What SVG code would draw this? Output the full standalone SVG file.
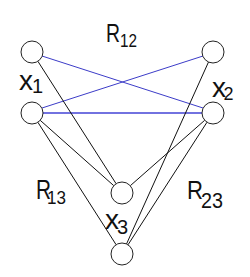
<svg xmlns="http://www.w3.org/2000/svg" width="250" height="277" viewBox="0 0 250 277">
<style>
.node{fill:#fff;stroke:#222;stroke-width:1}
.edge{stroke:#111;stroke-width:1;fill:none}
.blue{stroke:#3c3cc8;stroke-width:1;fill:none}
.blue2{stroke:#7272e0;stroke-width:2;fill:none}
text{font-family:"Liberation Sans",Arial,sans-serif;fill:#111}
</style>
<rect width="250" height="277" fill="#fff"/>
<g id="connectors">
<line class="blue" x1="42" y1="56" x2="203" y2="108"/>
<line class="blue" x1="203" y1="56" x2="42" y2="108"/>
<line class="blue2" x1="43" y1="113" x2="202" y2="113"/>
<line class="edge" x1="37.9" y1="61.3" x2="116.1" y2="183.7"/>
<line class="edge" x1="40.2" y1="120.3" x2="113.8" y2="185.7"/>
<line class="edge" x1="37.9" y1="122.3" x2="116.1" y2="244.7"/>
<line class="edge" x1="208.5" y1="62" x2="126.5" y2="244"/>
<line class="edge" x1="204.7" y1="120.3" x2="130.3" y2="185.7"/>
<line class="edge" x1="207" y1="122.2" x2="128" y2="244.8"/>
</g>
<g id="n1a"><circle class="node" cx="32" cy="52" r="11"/></g>
<g id="n1b"><circle class="node" cx="32" cy="113" r="11"/></g>
<g id="n2a"><circle class="node" cx="213" cy="52" r="11"/></g>
<g id="n2b"><circle class="node" cx="213" cy="113" r="11"/></g>
<g id="n3a"><circle class="node" cx="122" cy="193" r="11"/></g>
<g id="n3b"><circle class="node" cx="122" cy="254" r="11"/></g>
<g id="labels">
<text x="106" y="42" font-size="25" textLength="14" lengthAdjust="spacingAndGlyphs">R</text>
<text x="120" y="47" font-size="19" textLength="17" lengthAdjust="spacingAndGlyphs">12</text>
<text x="19" y="90" font-size="28">x</text>
<text x="32" y="92.5" font-size="20">1</text>
<text x="212" y="97" font-size="28">x</text>
<text x="223.5" y="100" font-size="18">2</text>
<text x="105" y="229" font-size="28">x</text>
<text x="117" y="234" font-size="20">3</text>
<text x="36" y="199" font-size="27" textLength="15" lengthAdjust="spacingAndGlyphs">R</text>
<text x="47" y="204" font-size="19" textLength="19" lengthAdjust="spacingAndGlyphs">13</text>
<text x="187" y="198.5" font-size="26" textLength="16" lengthAdjust="spacingAndGlyphs">R</text>
<text x="201" y="208" font-size="22" textLength="22" lengthAdjust="spacingAndGlyphs">23</text>
</g>
</svg>
